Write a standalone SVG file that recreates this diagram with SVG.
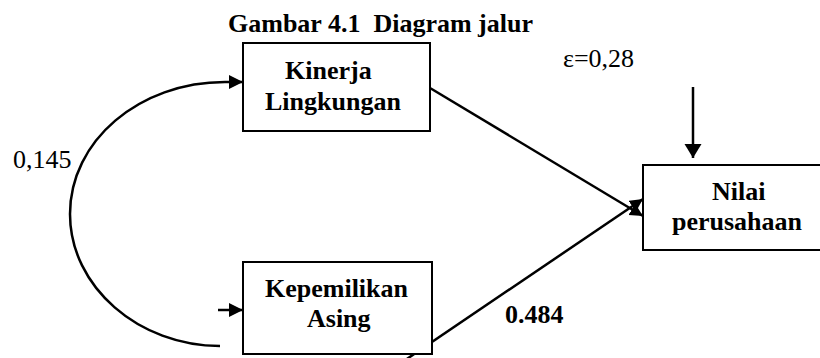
<svg xmlns="http://www.w3.org/2000/svg" width="820" height="358" viewBox="0 0 820 358">
<style>
  .t { font-family: "Liberation Serif", "Times New Roman", serif; font-size: 26px; fill: #000; white-space: pre; }
  .b { font-weight: bold; }
  .box { fill: #fff; stroke: #000; stroke-width: 2; }
  .ln { fill: none; stroke: #000; stroke-width: 2.5; }
</style>
<defs>
  <marker id="ah" markerUnits="userSpaceOnUse" markerWidth="15" markerHeight="15" refX="14" refY="7" orient="auto">
    <path d="M0,0 L14,7 L0,14 z" fill="#000"/>
  </marker>
  <marker id="ahs" markerUnits="userSpaceOnUse" markerWidth="14" markerHeight="14" refX="13" refY="6.5" orient="auto">
    <path d="M0,0 L13,6.5 L0,13 z" fill="#000"/>
  </marker>
  <marker id="ahv" markerUnits="userSpaceOnUse" markerWidth="16" markerHeight="18" refX="14" refY="8.5" orient="auto">
    <path d="M0,0 L14,8.5 L0,17 z" fill="#000"/>
  </marker>
</defs>

<text class="t b" x="228" y="32">Gambar 4.1  Diagram jalur</text>

<g id="connectors">
  <path class="ln" d="M220,346 C139,346 70,287 70,214 C70,141 139,82 225,82 L243,82" marker-end="url(#ah)"/>
  <path class="ln" d="M218,310 L243,310" marker-end="url(#ah)"/>
  <path class="ln" d="M425,85 L643,216" marker-end="url(#ahs)"/>
  <path class="ln" d="M398,365 L643,199" marker-end="url(#ahs)"/>
  <path class="ln" d="M693,87 L693,158" marker-end="url(#ahv)"/>
</g>

<g id="kinerja">
  <rect class="box" x="243" y="43" width="187" height="88"/>
  <text class="t b" x="285" y="79">Kinerja</text>
  <text class="t b" x="265" y="110">Lingkungan</text>
</g>

<g id="kepemilikan">
  <rect class="box" x="243" y="262" width="189" height="92"/>
  <text class="t b" x="265" y="297">Kepemilikan</text>
  <text class="t b" x="307" y="327">Asing</text>
</g>

<g id="nilai">
  <rect class="box" x="643" y="165" width="200" height="85"/>
  <text class="t b" x="712" y="200">Nilai</text>
  <text class="t b" x="672" y="230">perusahaan</text>
</g>

<g id="labels">
  <text class="t" x="563" y="67">ε=0,28</text>
  <text class="t" x="13" y="168">0,145</text>
  <text class="t b" x="505" y="323">0.484</text>
</g>
</svg>
